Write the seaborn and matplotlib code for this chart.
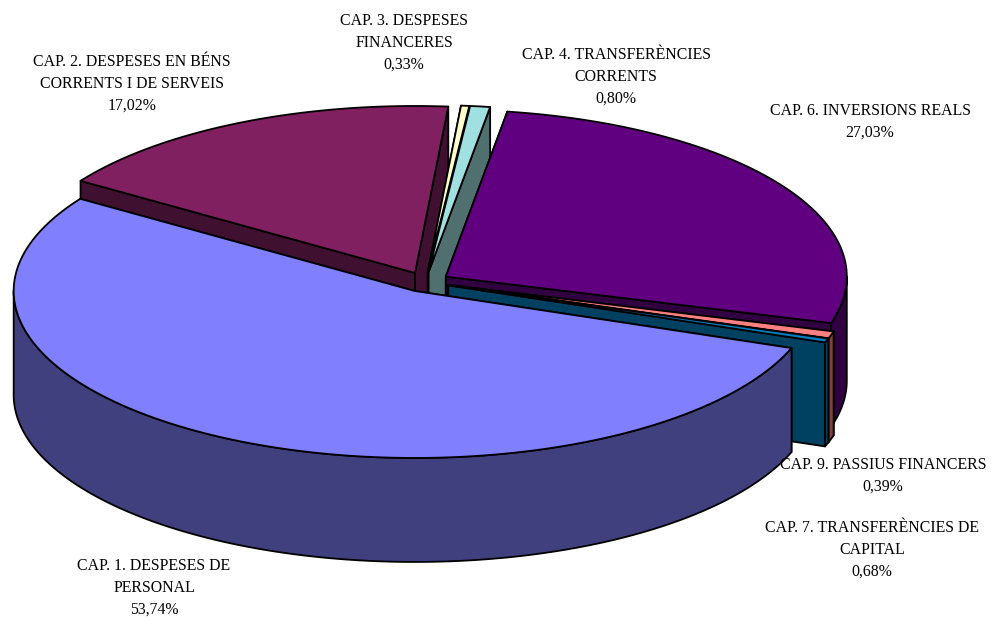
import numpy as np
import matplotlib
matplotlib.use("Agg")
import matplotlib.pyplot as plt
import seaborn as sns

categories = [
    "CAP. 1. DESPESES DE\nPERSONAL",
    "CAP. 2. DESPESES EN BÉNS\nCORRENTS I DE SERVEIS",
    "CAP. 3. DESPESES\nFINANCERES",
    "CAP. 4. TRANSFERÈNCIES\nCORRENTS",
    "CAP. 6. INVERSIONS REALS",
    "CAP. 7. TRANSFERÈNCIES DE\nCAPITAL",
    "CAP. 9. PASSIUS FINANCERS",
]
values = [53.74, 17.02, 0.33, 0.80, 27.03, 0.68, 0.39]
top_colors = ["#8080FF", "#802060", "#FFFFCC", "#A0E0E0", "#600080", "#FF8080", "#0080C0"]
side_colors = ["#40407F", "#401030", "#7F7F66", "#507070", "#300040", "#804040", "#004060"]
label_x = [154, 132, 404, 616, 870, 872, 883]
label_y = [588, 84, 43, 77, 122, 550, 476]

# pie geometry in pixels
cx, cy = 425.5, 282
rx, ry = 401, 167
depth = 104
explode = 0.06
start_angle = 110.0

sns.set_theme(style="white")
plt.rcParams["font.family"] = ["Liberation Serif", "DejaVu Serif"]

fig = plt.figure(figsize=(9.92, 6.17), dpi=100)
ax = fig.add_axes([0, 0, 1, 1])
ax.set_xlim(0, 992)
ax.set_ylim(617, 0)
ax.axis("off")

tops = sns.color_palette(top_colors)
sides = sns.color_palette(side_colors)

shares = np.array(values) / np.sum(values) * 360
ends = start_angle + np.cumsum(shares)
starts = ends - shares


def point(a, ox, oy):
    # angle is clockwise from north
    t = np.radians(a)
    return ox + rx * np.sin(t), oy - ry * np.cos(t)


def draw_slice(i):
    a0, a1 = starts[i], ends[i]
    # slices past north have gone round once
    if a0 >= 360:
        a0, a1 = a0 - 360, a1 - 360
    mid = np.radians((a0 + a1) / 2)
    ox = cx + explode * rx * np.sin(mid)
    oy = cy - explode * ry * np.cos(mid)
    kw = dict(edgecolor="black", linewidth=1.3, joinstyle="round")

    # radial walls
    for a in (a0, a1):
        x, y = point(a, ox, oy)
        ax.fill([ox, x, x, ox], [oy, y, y + depth, oy + depth], facecolor=sides[i], **kw)

    # outer wall, only the part facing the front
    lo = max(a0, 90)
    hi = min(a1, 270)
    if hi > lo:
        arc = np.linspace(lo, hi, 200)
        x, y = point(arc, ox, oy)
        ax.fill(np.r_[x, x[::-1]], np.r_[y, y[::-1] + depth], facecolor=sides[i], **kw)

    # top face
    arc = np.linspace(a0, a1, 300)
    x, y = point(arc, ox, oy)
    ax.fill(np.r_[ox, x], np.r_[oy, y], facecolor=tops[i], **kw)


for i in [1, 2, 3, 4, 5, 6, 0]:
    draw_slice(i)

for name, v, x, y in zip(categories, values, label_x, label_y):
    pct = f"{v:.2f}".replace(".", ",") + "%"
    ax.text(x, y, name + "\n" + pct, ha="center", va="center", fontsize=11.4,
            color="black", linespacing=1.46)

fig.savefig("out.png", dpi=100, facecolor="white")
